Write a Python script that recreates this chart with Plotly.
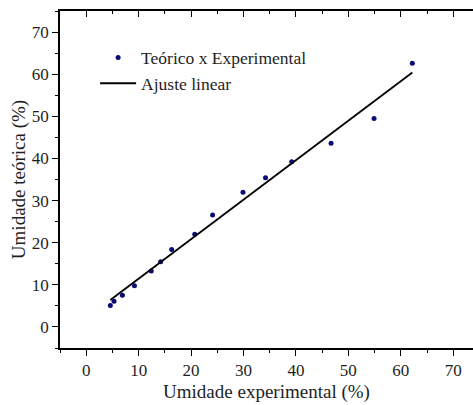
import plotly.graph_objects as go

exp_x = [4.6, 5.3, 6.9, 9.2, 12.4, 14.2, 16.3, 20.7, 24.1, 29.9, 34.2, 39.2, 46.7, 54.9, 62.2]
teo_y = [5.1, 6.1, 7.5, 9.8, 13.3, 15.5, 18.4, 22.0, 26.6, 32.0, 35.4, 39.2, 43.6, 49.5, 62.6]
fit_x = [4.6, 62.2]
fit_y = [6.4, 60.4]

x_ticks = [0, 10, 20, 30, 40, 50, 60, 70]
y_ticks = [0, 10, 20, 30, 40, 50, 60, 70]

FONT = "Liberation Serif"
TXT = "#1e1e1e"

fig = go.Figure()
fig.add_trace(go.Scatter(x=exp_x, y=teo_y, mode="markers", name="Teórico x Experimental",
                         marker=dict(color="#0a0a78", size=5)))
fig.add_trace(go.Scatter(x=fit_x, y=fit_y, mode="lines", name="Ajuste linear",
                         line=dict(color="black", width=1.8)))
fig.add_trace(go.Scatter(x=[None], y=[None], xaxis="x2", showlegend=False, hoverinfo="skip"))

xr = [-5, 73.77]
fig.update_layout(
    width=473, height=405,
    margin=dict(l=60, r=0, t=11, b=57),
    paper_bgcolor="white", plot_bgcolor="white",
    font=dict(family=FONT, size=17, color=TXT),
    showlegend=True,
    legend=dict(x=0.085, y=0.915, xanchor="left", yanchor="top", bgcolor="rgba(0,0,0,0)",
                font=dict(family=FONT, size=17.5, color=TXT), itemwidth=36,
                tracegroupgap=0),
    xaxis=dict(range=xr, tickvals=x_ticks, ticktext=[str(v) for v in x_ticks],
               showgrid=False, zeroline=False, showline=True, linecolor="black", linewidth=1.5,
               ticks="outside", ticklen=6, tickwidth=1.2, tickcolor="black",
               minor=dict(dtick=5, tick0=0, ticks="outside", ticklen=3, tickwidth=1.2, tickcolor="black"),
               tickfont=dict(size=17, family=FONT, color=TXT),
               title=dict(text="Umidade experimental (%)", font=dict(size=19, family=FONT, color=TXT), standoff=6)),
    xaxis2=dict(range=xr, overlaying="x", side="top", tickvals=x_ticks, showticklabels=False,
                showgrid=False, zeroline=False, showline=True, linecolor="black", linewidth=1.5,
                ticks="inside", ticklen=6, tickwidth=1.2, tickcolor="black",
                minor=dict(dtick=5, tick0=0, ticks="inside", ticklen=3, tickwidth=1.2, tickcolor="black")),
    yaxis=dict(range=[-5, 75], tickvals=y_ticks, ticktext=[str(v) for v in y_ticks],
               showgrid=False, zeroline=False, showline=True, linecolor="black", linewidth=1.5,
               ticks="outside", ticklen=6, tickwidth=1.2, tickcolor="black",
               minor=dict(dtick=5, tick0=0, ticks="outside", ticklen=3, tickwidth=1.2, tickcolor="black"),
               tickfont=dict(size=17, family=FONT, color=TXT),
               title=dict(text="Umidade teórica (%)", font=dict(size=19, family=FONT, color=TXT), standoff=1)),
)
fig.write_html("out.html", config={"displayModeBar": False},
               post_script="document.body.style.margin='0';document.body.style.overflow='hidden';")
